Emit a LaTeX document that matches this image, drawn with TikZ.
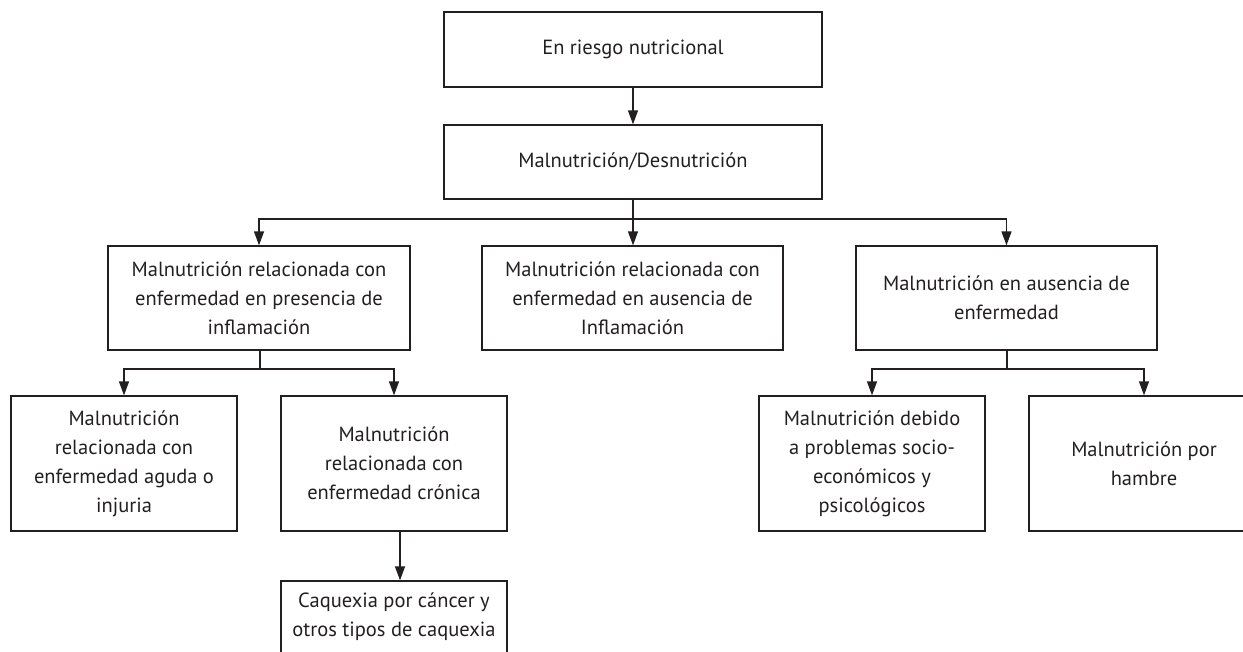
\documentclass[tikz,border=0pt]{standalone}
\usepackage{fontspec}
\setmainfont{PT Sans}
\usetikzlibrary{arrows.meta}
\definecolor{ink}{HTML}{231F20}
\begin{document}
\begin{tikzpicture}[x=1pt,y=-1pt,
  box/.style={draw=ink,line width=1.3pt,inner sep=0pt,align=center,text=ink,
    font=\fontsize{20.5}{29}\selectfont,minimum width=#1},
  box/.default=226pt,
  arr/.style={draw=ink,line width=1.3pt,-{Triangle[length=14pt,width=10pt]}},
  ln/.style={draw=ink,line width=1.3pt}]
\useasboundingbox (0,0) rectangle (1243,651);
\node[box=378pt,minimum height=75pt] (b1) at (633,49.5) {En riesgo nutricional};
\node[box=378pt,minimum height=74pt] (b2) at (633,162) {Malnutrición/Desnutrición};
\node[box=302pt,minimum height=104pt] (b3) at (259,298) {Malnutrición relacionada con\\enfermedad en presencia de\\inflamación};
\node[box=301pt,minimum height=104pt] (b4) at (632.5,298) {Malnutrición relacionada con\\enfermedad en ausencia de\\Inflamación};
\node[box=301pt,minimum height=104pt] (b5) at (1006.5,298) {Malnutrición en ausencia de\\enfermedad};
\node[box,minimum height=135pt] (b6) at (124,463.5) {Malnutrición\\relacionada con\\enfermedad aguda o\\injuria};
\node[box,minimum height=135pt] (b7) at (394,463.5) {Malnutrición\\relacionada con\\enfermedad crónica};
\node[box,minimum height=135pt] (b8) at (872,463.5) {Malnutrición debido\\a problemas socio-\\económicos y\\psicológicos};
\node[box=230pt,minimum height=135pt] (b9) at (1144,463.5) {Malnutrición por\\hambre};
\node[box,minimum height=72pt] (b10) at (394,617) {Caquexia por cáncer y\\otros tipos de caquexia};
\coordinate (j1) at (633,219);
\coordinate (j2) at (260,369);
\coordinate (j3) at (1007,369);
\draw[arr] (b1) -- (b2);
\draw[ln] (b2.south) -- (j1);
\draw[arr] (j1) -- (b4.north -| j1);
\draw[arr] (j1) -| (b3.north);
\draw[arr] (j1) -| (b5.north);
\draw[ln] (b3.south -| j2) -- (j2);
\draw[arr] (j2) -| (b6.north);
\draw[arr] (j2) -| (b7.north);
\draw[ln] (b5.south -| j3) -- (j3);
\draw[arr] (j3) -| (b8.north);
\draw[arr] (j3) -| (b9.north);
\draw[arr] ([xshift=6pt]b7.south) -- ([xshift=6pt]b10.north);
\end{tikzpicture}
\end{document}
